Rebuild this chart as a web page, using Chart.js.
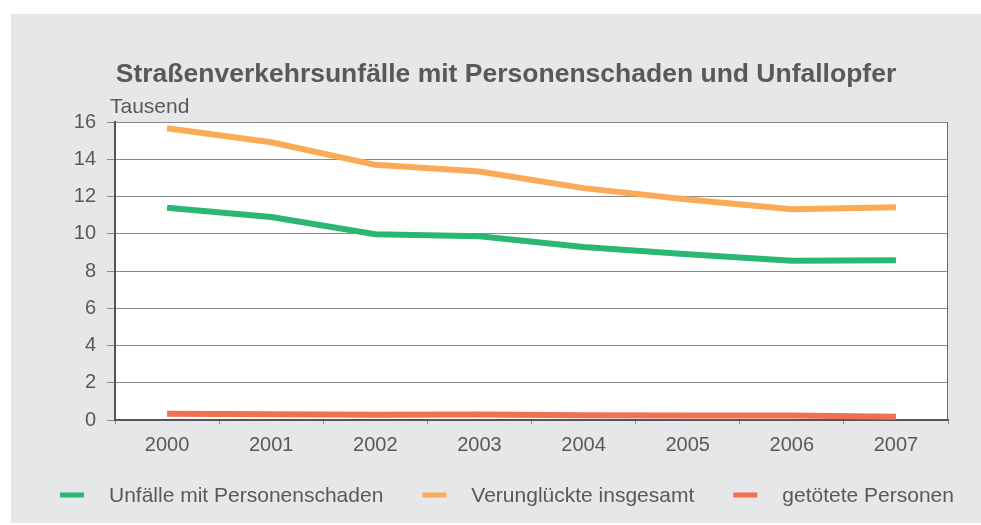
<!DOCTYPE html>
<html>
<head>
<meta charset="utf-8">
<script src="https://cdn.jsdelivr.net/npm/chart.js@4"></script>
<style>
  html, body { margin: 0; padding: 0; background: #ffffff; }
  #wrap { width: 981px; height: 525px; position: relative; }
</style>
</head>
<body>
<div id="wrap"><canvas id="unfaelle"></canvas></div>
<script>
// Jahre und Werte in Tausend
var jahre = ["2000", "2001", "2002", "2003", "2004", "2005", "2006", "2007"];
var unfaelle = [11.40, 10.90, 9.97, 9.87, 9.29, 8.90, 8.55, 8.58];
var verunglueckte = [15.66, 14.91, 13.70, 13.34, 12.45, 11.84, 11.31, 11.42];
var getoetete = [0.33, 0.31, 0.28, 0.30, 0.26, 0.24, 0.24, 0.18];
var yTicks = [0, 2, 4, 6, 8, 10, 12, 14, 16];

var titel = "Straßenverkehrsunfälle mit Personenschaden und Unfallopfer";
var einheit = "Tausend";
var textFarbe = "#595959";
var schrift = "'Liberation Sans', Arial, sans-serif";

// Hintergrund, Titel, Rahmen und Legende
var rahmenPlugin = {
    id: "rahmen",
    beforeDraw: function (chart) {
        var c = chart.ctx, a = chart.chartArea;
        c.save();
        c.fillStyle = "#ffffff";
        c.fillRect(0, 0, chart.width, chart.height);
        c.fillStyle = "#e6e7e9";
        c.fillRect(11, 14, chart.width - 11, 509);
        c.fillStyle = "#ffffff";
        c.fillRect(a.left, a.top, a.right - a.left, a.bottom - a.top);
        c.restore();
    },
    afterDraw: function (chart) {
        var c = chart.ctx, a = chart.chartArea;
        c.save();
        // rechte Rahmenlinie
        c.strokeStyle = "#6a6a6a";
        c.lineWidth = 1;
        c.beginPath();
        c.moveTo(a.right - 0.5, a.top);
        c.lineTo(a.right - 0.5, a.bottom);
        c.stroke();

        // Titel
        c.fillStyle = textFarbe;
        c.font = "bold 26.5px " + schrift;
        c.textAlign = "center";
        c.textBaseline = "alphabetic";
        c.fillText(titel, 506, 82);

        // Einheit
        c.font = "21px " + schrift;
        c.textAlign = "left";
        c.fillText(einheit, 110, 113);

        // Legende
        var x = 60, y = 495;
        chart.data.datasets.forEach(function (ds) {
            c.fillStyle = ds.borderColor;
            c.fillRect(x, y - 2.5, 24, 5);
            c.fillStyle = textFarbe;
            c.fillText(ds.label, x + 49, y + 7);
            x += 49 + c.measureText(ds.label).width + 39;
        });
        c.restore();
    }
};

var ctx = document.getElementById("unfaelle").getContext("2d");

new Chart(ctx, {
    type: "line",
    data: {
        labels: jahre,
        datasets: [{
            label: "Unfälle mit Personenschaden",
            data: unfaelle,
            borderColor: "#2bb673",
            borderWidth: 6,
            pointRadius: 0,
            tension: 0,
            fill: false
        },
        {
            label: "Verunglückte insgesamt",
            data: verunglueckte,
            borderColor: "#fbaa55",
            borderWidth: 6,
            pointRadius: 0,
            tension: 0,
            fill: false
        },
        {
            label: "getötete Personen",
            data: getoetete,
            borderColor: "#f26f52",
            borderWidth: 6,
            pointRadius: 0,
            tension: 0,
            fill: false
        }]
    },
    options: {
        responsive: true,
        maintainAspectRatio: false,
        animation: false,
        layout: {
            padding: { left: 0, right: 33, top: 122, bottom: 65 }
        },
        plugins: {
            legend: { display: false },
            title: { display: false },
            tooltip: { enabled: false }
        },
        scales: {
            x: {
                offset: true,
                afterFit: function (scale) { scale.height = 40; },
                border: { display: true, color: "#555555", width: 2 },
                grid: {
                    display: true,
                    offset: true,
                    drawOnChartArea: false,
                    drawTicks: true,
                    tickLength: 4,
                    color: "#8a8a8a"
                },
                ticks: {
                    padding: 9,
                    color: textFarbe,
                    font: { size: 20, family: schrift }
                }
            },
            y: {
                min: 0,
                max: 16,
                afterFit: function (scale) { scale.width = 115; },
                afterBuildTicks: function (scale) {
                    scale.ticks = yTicks.map(function (v) { return { value: v }; });
                },
                border: { display: true, color: "#555555", width: 2 },
                grid: {
                    color: "#8a8a8a",
                    lineWidth: 1,
                    drawTicks: true,
                    tickLength: 8
                },
                ticks: {
                    padding: 11,
                    color: textFarbe,
                    font: { size: 20, family: schrift }
                }
            }
        }
    },
    plugins: [rahmenPlugin]
});
</script>
</body>
</html>
